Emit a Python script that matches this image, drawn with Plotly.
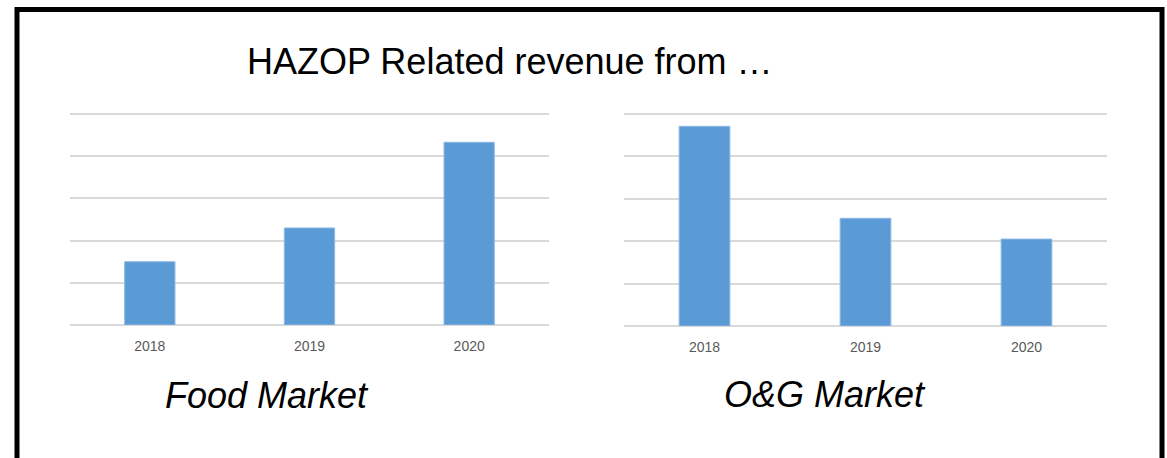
import plotly.graph_objects as go

# Revenue (relative units) per year for each market
years = ["2018", "2019", "2020"]
food_revenue = [1.5, 2.3, 4.33]
og_revenue = [4.71, 2.54, 2.05]

title_text = "HAZOP Related revenue from …"
food_label = "Food Market"
og_label = "O&G Market"

W, H = 1167, 458
BAR_COLOR = "#5B9BD5"
GRID_COLOR = "#D9D9D9"
TICK_COLOR = "#595959"
Y_MAX = 5.03  # a little headroom so the top gridline at 5 is drawn


def px_x(v):
    return v / W


def px_y(v):
    return 1 - v / H


def top_px(base, top5):
    # pixel of the domain top so that value 5 lands on top5
    return base - (base - top5) * Y_MAX / 5


fig = go.Figure()

fig.add_trace(go.Bar(
    x=years, y=food_revenue, xaxis="x", yaxis="y",
    marker=dict(color=BAR_COLOR, line=dict(color="#8FB8E3", width=1)),
    showlegend=False, hoverinfo="x+y",
))
fig.add_trace(go.Bar(
    x=years, y=og_revenue, xaxis="x2", yaxis="y2",
    marker=dict(color=BAR_COLOR, line=dict(color="#8FB8E3", width=1)),
    showlegend=False, hoverinfo="x+y",
))

xaxis_common = dict(
    type="category", showgrid=False, showline=False, ticks="",
    tickfont=dict(family="Liberation Sans", size=14, color=TICK_COLOR),
    ticklabelstandoff=11, fixedrange=True,
)
yaxis_common = dict(
    range=[0, Y_MAX], tickvals=[0, 1, 2, 3, 4, 5], showticklabels=False, ticks="",
    showgrid=True, gridcolor=GRID_COLOR, gridwidth=1.5,
    zeroline=True, zerolinecolor=GRID_COLOR, zerolinewidth=1.5,
    showline=False, fixedrange=True,
)

fig.update_layout(
    width=W, height=H,
    margin=dict(l=0, r=0, t=0, b=0),
    paper_bgcolor="white", plot_bgcolor="white",
    bargap=0.685,
    xaxis=dict(domain=[px_x(70), px_x(549)], anchor="y", **xaxis_common),
    yaxis=dict(domain=[px_y(325), px_y(top_px(325, 114))], anchor="x", **yaxis_common),
    xaxis2=dict(domain=[px_x(624), px_x(1107)], anchor="y2", **xaxis_common),
    yaxis2=dict(domain=[px_y(326), px_y(top_px(326, 114))], anchor="x2", **yaxis_common),
)

# Outer frame
fig.add_shape(
    type="rect", xref="paper", yref="paper",
    x0=px_x(17), x1=px_x(1162), y0=px_y(470), y1=px_y(9.5),
    line=dict(color="black", width=5), fillcolor="rgba(0,0,0,0)", layer="above",
)

fig.add_annotation(
    text=title_text, xref="paper", yref="paper",
    x=px_x(245), y=px_y(61), xanchor="left", yanchor="middle",
    showarrow=False, font=dict(family="Liberation Sans", size=36, color="black"),
)
fig.add_annotation(
    text=f"<i>{food_label}</i>", xref="paper", yref="paper",
    x=px_x(163), y=px_y(395), xanchor="left", yanchor="middle",
    showarrow=False, font=dict(family="Liberation Sans", size=36, color="black"),
)
fig.add_annotation(
    text=f"<i>{og_label}</i>", xref="paper", yref="paper",
    x=px_x(722), y=px_y(394), xanchor="left", yanchor="middle",
    showarrow=False, font=dict(family="Liberation Sans", size=36, color="black"),
)

fig.write_html("out.html")
